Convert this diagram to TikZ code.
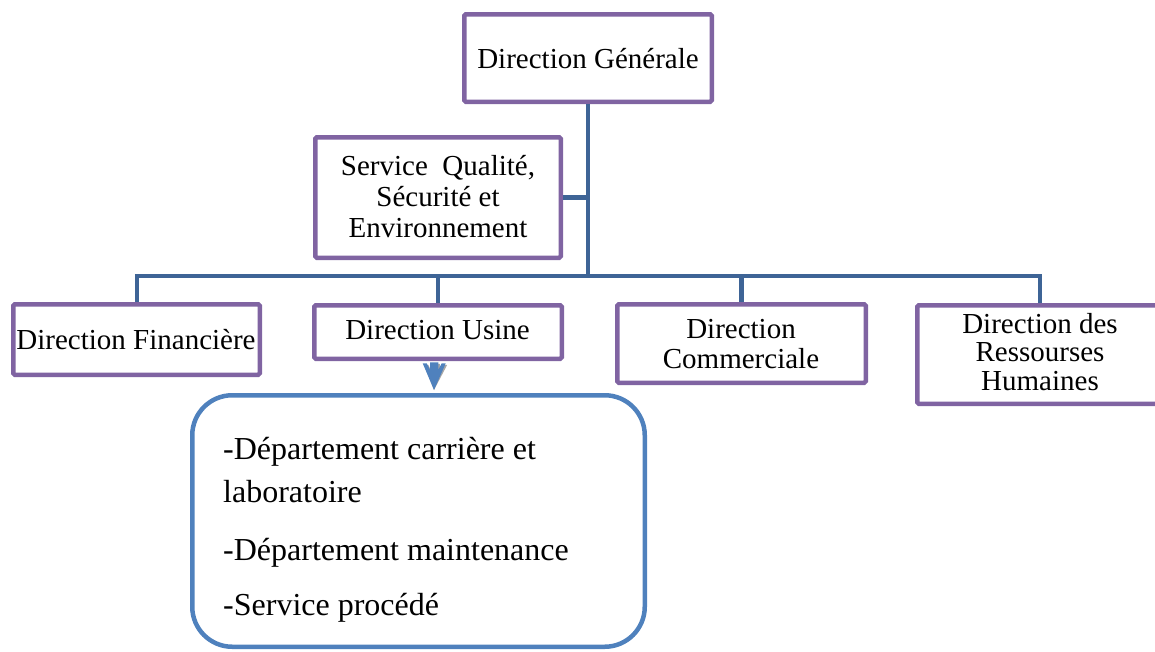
\documentclass[tikz,border=0pt]{standalone}
\usepackage{fontspec}
\setmainfont{Liberation Serif}
\definecolor{boxpurple}{RGB}{128,100,162}
\definecolor{linkblue}{RGB}{62,100,150}
\definecolor{roundblue}{RGB}{79,129,189}
\begin{document}
\begin{tikzpicture}[x=1pt,y=-1pt,
  orgbox/.style={draw=boxpurple,line width=4.5pt,rounded corners=1.5pt,inner sep=0pt},
  conn/.style={draw=linkblue,line width=4.5pt},
  txt/.style={font=\fontsize{29}{30}\selectfont,inner sep=0pt,align=center},
  listtxt/.style={font=\fontsize{32}{43}\selectfont,inner sep=0pt,align=left}]
\useasboundingbox (0,0) rectangle (1155,651);
% boxes
\node[orgbox,minimum width=247.5pt,minimum height=87.5pt] (dg) at (588,58) {};
\node[orgbox,minimum width=245.5pt,minimum height=120.5pt] (sq) at (438,197.5) {};
\node[orgbox,minimum width=246.5pt,minimum height=70.5pt] (fin) at (136.5,339.5) {};
\node[orgbox,minimum width=247.5pt,minimum height=53.5pt] (usine) at (438,332) {};
\node[orgbox,minimum width=248.5pt,minimum height=78.5pt] (comm) at (741.5,343.5) {};
\node[orgbox,minimum width=245.5pt,minimum height=98.5pt] (rh) at (1040,354.5) {};
\node[draw=roundblue,line width=4.5pt,rounded corners=40pt,minimum width=452.5pt,minimum height=251.5pt,inner sep=0pt] (list) at (418.5,521) {};
% texts (multi-line nodes: base = last line)
\node[txt,anchor=base] (tdg) at (588,68) {Direction Générale};
\node[txt,anchor=base,font=\fontsize{29}{31}\selectfont] (tsq) at (438,237) {Service\ \ Qualité,\\Sécurité et\\Environnement};
\node[txt,anchor=base] (tfin) at (136,349) {Direction Financière};
\node[txt,anchor=base] (tusine) at (437.5,339) {Direction Usine};
\node[txt,anchor=base] (tcomm) at (741,368) {Direction\\Commerciale};
\node[txt,anchor=base,font=\fontsize{29}{28.5}\selectfont] (trh) at (1040,390) {Direction des\\Ressourses\\Humaines};
\node[listtxt,anchor=base west] (tlist) at (223,615) {-Département carrière et\\laboratoire\\[15pt]-Département maintenance\\[12pt]-Service procédé};
% connectors
\coordinate (busM) at (588,276);
\coordinate (busL) at (137,276);
\coordinate (busR) at (1040,276);
\draw[conn] (dg.south) -- (busM);
\draw[conn] (sq.east) -- (sq.east -| busM);
\draw[conn] ([xshift=-2.25pt]busL) -- ([xshift=2.25pt]busR);
\draw[conn] (busL) -- (busL |- fin.north);
\draw[conn] (usine.north |- busL) -- (usine.north);
\draw[conn] (comm.north |- busL) -- (comm.north);
\draw[conn] (busR) -- (rh.north);
% arrow
\coordinate (arrtip) at (434,390);
\fill[gray!70,shift={(1.5,1.5)}] (422.7,363.3) -- (426.7,363.3) -- (430,370) -- (430,362.3) -- (438.3,362.3) -- (438.3,370) -- (441.7,363.3) -- (445.7,363.3) -- (arrtip) -- cycle;
\fill[roundblue] (422.7,363.3) -- (426.7,363.3) -- (430,370) -- (430,362.3) -- (438.3,362.3) -- (438.3,370) -- (441.7,363.3) -- (445.7,363.3) -- (arrtip) -- cycle;
\end{tikzpicture}
\end{document}
